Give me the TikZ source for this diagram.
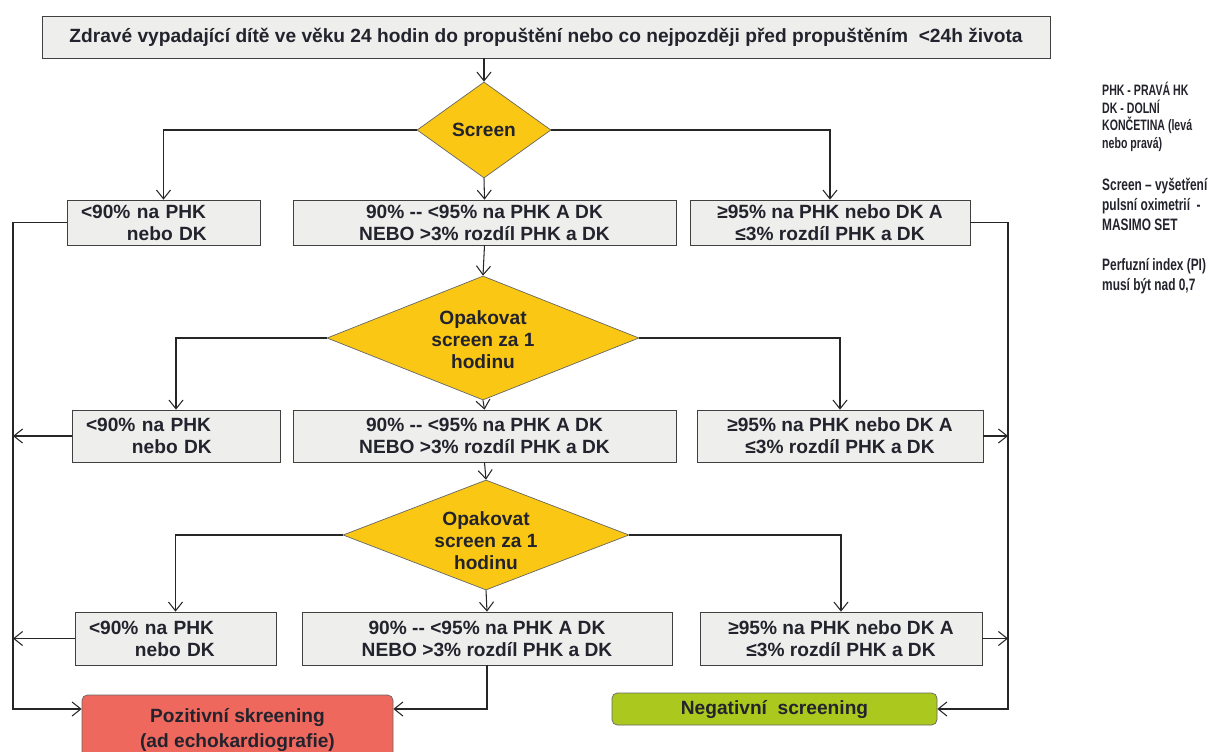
\documentclass[tikz,border=0pt]{standalone}
\usepackage{fontspec}
\setmainfont{Liberation Sans}
\newfontfamily\legfont[FakeStretch=0.72]{Liberation Sans}
\newfontfamily\legnarrow[FakeStretch=0.7]{Liberation Sans}
\usetikzlibrary{shapes.geometric,arrows.meta}
\definecolor{diayellow}{RGB}{250,200,20}
\definecolor{boxgray}{RGB}{238,238,236}
\definecolor{posred}{RGB}{238,104,94}
\definecolor{neggreen}{RGB}{170,200,30}
\definecolor{txtdark}{RGB}{35,35,45}
\begin{document}
\begin{tikzpicture}[>={Straight Barb[length=5pt,width=8pt]},
    every node/.style={font=\bfseries\fontsize{10.9}{12.5}\selectfont,text=txtdark},
    box/.style={draw=black!75,fill=boxgray,inner sep=1pt,align=center},
    lbox/.style={box,align=left,inner xsep=0.28cm,text width=#1},
    dia/.style={diamond,draw=black!60,fill=diayellow,inner sep=0pt},
    result/.style={draw=black!60,rounded corners=3pt,inner sep=1pt,align=center},
    conn/.style={black!85,semithick}]
\useasboundingbox (0,0) rectangle (24.24,-15.04);
%Top box and first screen
    \node[box,minimum width=20.16cm,minimum height=0.84cm] (start) at (10.92,-0.74)
        {Zdravé vypadající dítě ve věku 24 hodin do propuštění nebo co nejpozději před propuštěním \ <24h života};
    \node[dia,minimum width=2.68cm,minimum height=1.92cm] (d1) at (9.68,-2.6) {};
    \node (d1t) at (d1) {Screen};
%Row 1
    \node[lbox=3.3cm,minimum height=0.9cm] (l1) at (3.27,-4.45)
        {<90\% na PHK\\\hspace{2.4em}nebo DK};
    \node[box,minimum width=7.66cm,minimum height=0.9cm] (m1) at (9.69,-4.45)
        {90\% -{}- <95\% na PHK A DK\\NEBO >3\% rozdíl PHK a DK};
    \node[box,minimum width=5.6cm,minimum height=0.9cm] (r1) at (16.6,-4.45)
        {≥95\% na PHK nebo DK A\\≤3\% rozdíl PHK a DK};
%Second screen
    \node[dia,minimum width=6.24cm,minimum height=2.48cm] (d2) at (9.66,-6.76) {};
    \node[align=center] (d2t) at ([yshift=-1pt]d2) {Opakovat\\screen za 1\\hodinu};
%Row 2
    \node[lbox=3.6cm,minimum height=1.04cm] (l2) at (3.52,-8.72)
        {<90\% na PHK\\\hspace{2.4em}nebo DK};
    \node[box,minimum width=7.66cm,minimum height=1.04cm] (m2) at (9.69,-8.72)
        {90\% -{}- <95\% na PHK A DK\\NEBO >3\% rozdíl PHK a DK};
    \node[box,minimum width=5.72cm,minimum height=1.04cm] (r2) at (16.8,-8.72)
        {≥95\% na PHK nebo DK A\\≤3\% rozdíl PHK a DK};
%Third screen
    \node[dia,minimum width=5.72cm,minimum height=2.2cm] (d3) at (9.72,-10.7) {};
    \node[align=center] (d3t) at ([yshift=-3pt]d3) {Opakovat\\screen za 1\\hodinu};
%Row 3
    \node[lbox=3.46cm,minimum height=1.06cm] (l3) at (3.51,-12.77)
        {<90\% na PHK\\\hspace{2.4em}nebo DK};
    \node[box,minimum width=7.4cm,minimum height=1.06cm] (m3) at (9.74,-12.77)
        {90\% -{}- <95\% na PHK A DK\\NEBO >3\% rozdíl PHK a DK};
    \node[box,minimum width=5.64cm,minimum height=1.06cm] (r3) at (16.82,-12.77)
        {≥95\% na PHK nebo DK A\\≤3\% rozdíl PHK a DK};
%Results
    \node[result,fill=posred,minimum width=6.22cm,minimum height=1.4cm,
        font=\bfseries\fontsize{10.9}{14}\selectfont] (pos) at (4.75,-14.6)
        {Pozitivní skreening\\(ad echokardiografie)};
    \node[result,fill=neggreen,minimum width=6.5cm,minimum height=0.64cm] (neg) at (15.49,-14.18)
        {Negativní \ screening};
%Legend
    \node[anchor=north west,align=left,font=\legnarrow\bfseries\fontsize{8.6}{10}\selectfont] (leg1) at (21.92,-1.52)
        {PHK - PRAVÁ HK\\DK - DOLNÍ\\KONČETINA (levá\\nebo pravá)};
    \node[anchor=north west,align=left,font=\legfont\bfseries\fontsize{9.4}{11.4}\selectfont] (leg2) at (21.92,-3.44)
        {Screen – vyšetření\\pulsní oximetrií \ -\\MASIMO SET};
    \node[anchor=north west,align=left,font=\legfont\bfseries\fontsize{9.4}{11.4}\selectfont] (leg3) at (21.92,-5.04)
        {Perfuzní index (PI)\\musí být nad 0,7};
%Rails
    \coordinate (lr) at (0.26,0);
    \coordinate (rr) at (20.16,0);
%Connectors
    \draw[conn,->] (d1.north |- start.south) -- (d1.north);
    \draw[conn,->] (d1.west) -| (l1.north);
    \draw[conn,->] (d1.south) -- (m1.north);
    \draw[conn,->] (d1.east) -| (r1.north);
    \draw[conn,->] (m1.south) -- (d2.north);
    \draw[conn,->] (d2.west) -| (l2.north);
    \draw[conn,->] (d2.south) -- (m2.north);
    \draw[conn,->] (d2.east) -| (r2.north);
    \draw[conn,->] (m2.south) -- (d3.north);
    \draw[conn,->] (d3.west) -| (l3.north);
    \draw[conn,->] (d3.south) -- (m3.north);
    \draw[conn,->] (d3.east) -| (r3.north);
    \draw[conn,->] (l1.west) -- (l1.west -| lr) |- (pos.west |- neg.center);
    \draw[conn,->] (l2.west) -- (l2.west -| lr);
    \draw[conn,->] (l3.west) -- (l3.west -| lr);
    \draw[conn,->] (m3.south) |- (pos.east |- neg.center);
    \draw[conn,->] (r1.east) -- (r1.east -| rr) |- (neg.east);
    \draw[conn,->] (r2.east) -- (r2.east -| rr);
    \draw[conn,->] (r3.east) -- (r3.east -| rr);
\end{tikzpicture}
\end{document}
